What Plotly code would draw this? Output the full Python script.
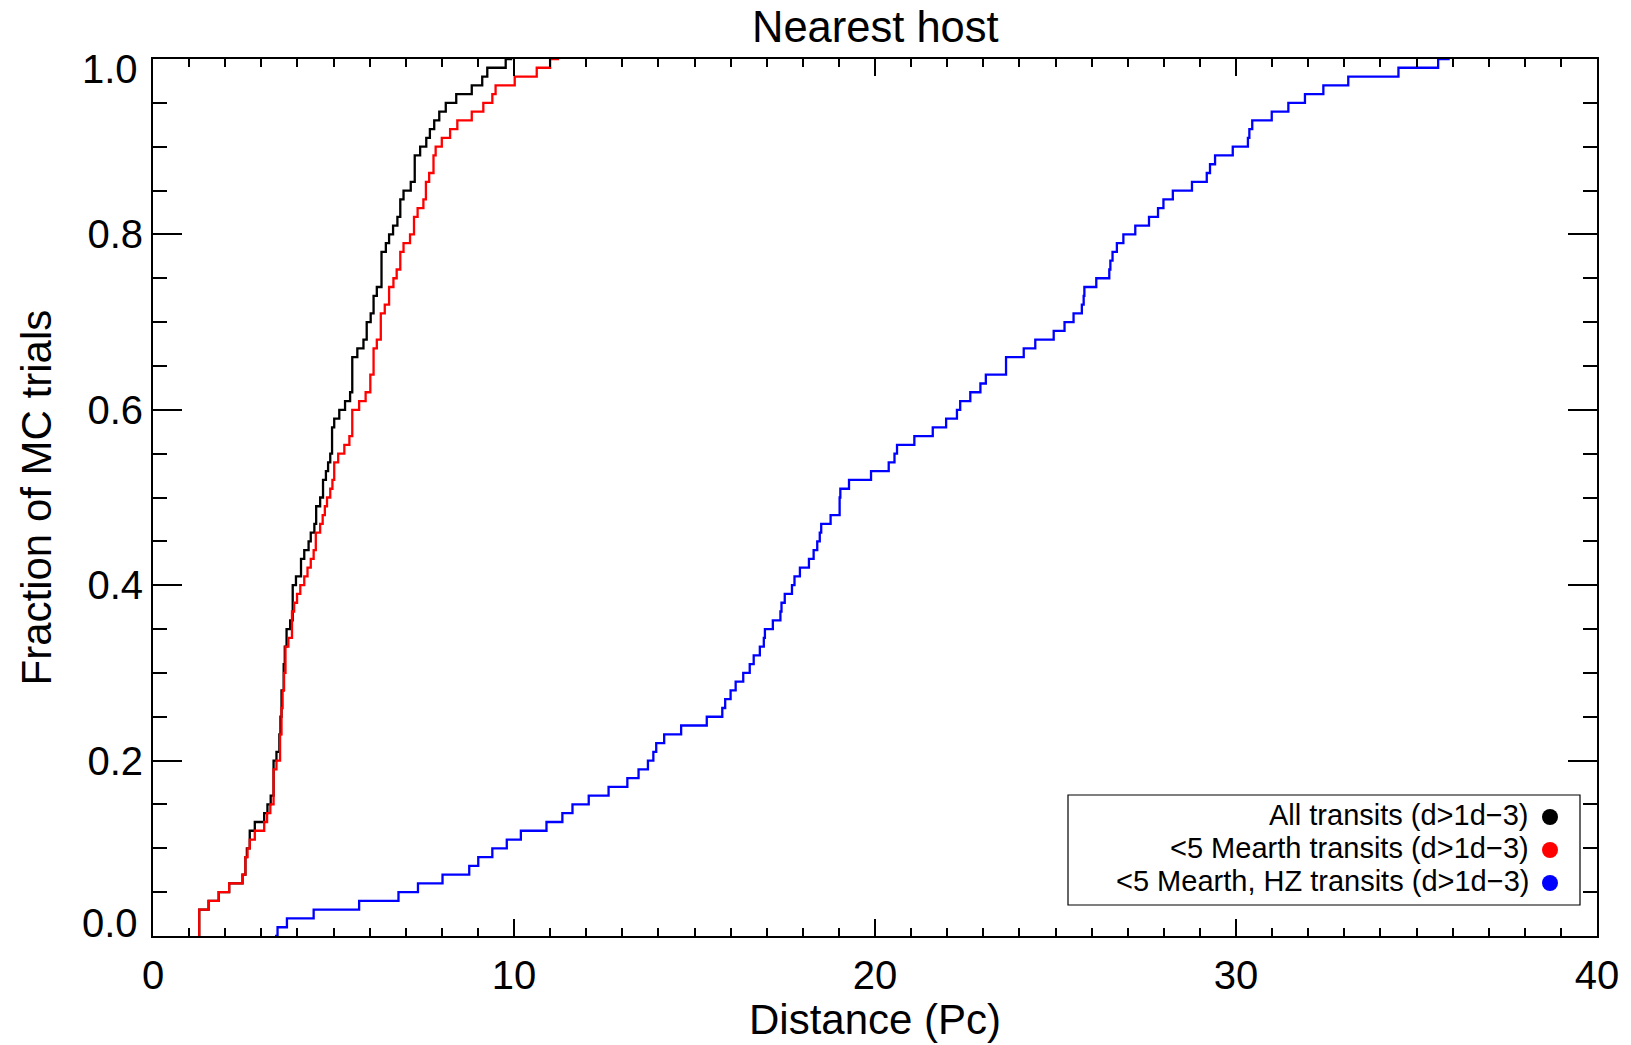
import plotly.graph_objects as go

# Cumulative distributions of the nearest-host distance (pc) over MC trials.
# Each list gives the distance at which the curve steps and the fraction reached there.
all_dist = [1.28, 1.28, 1.54, 1.82, 2.11, 2.48, 2.56, 2.60, 2.68, 2.82, 3.08, 3.17, 3.26,
            3.34, 3.42, 3.50, 3.53, 3.56, 3.62, 3.65, 3.70, 3.80, 3.87, 3.96, 4.10, 4.19,
            4.31, 4.37, 4.47, 4.52, 4.63, 4.71, 4.79, 4.85, 4.91, 4.96, 5.02, 5.16, 5.32,
            5.46, 5.52, 5.66, 5.83, 5.92, 6.03, 6.11, 6.20, 6.33, 6.45, 6.54, 6.65, 6.77,
            6.85, 6.94, 7.14, 7.25, 7.40, 7.57, 7.67, 7.79, 7.93, 8.11, 8.40, 8.83, 9.12,
            9.26, 9.77, 9.95]
all_frac = [0.00, 0.03, 0.04, 0.05, 0.06, 0.07, 0.09, 0.10, 0.12, 0.13, 0.14, 0.15, 0.16,
            0.20, 0.21, 0.23, 0.25, 0.28, 0.31, 0.33, 0.35, 0.36, 0.40, 0.41, 0.43, 0.44,
            0.45, 0.46, 0.47, 0.49, 0.50, 0.52, 0.53, 0.54, 0.55, 0.58, 0.59, 0.60, 0.61,
            0.62, 0.66, 0.67, 0.68, 0.70, 0.71, 0.73, 0.74, 0.78, 0.79, 0.80, 0.81, 0.82,
            0.84, 0.85, 0.86, 0.89, 0.90, 0.91, 0.92, 0.93, 0.94, 0.95, 0.96, 0.97, 0.98,
            0.99, 1.00, 1.00]

mearth_dist = [1.28, 1.28, 1.54, 1.82, 2.11, 2.48, 2.56, 2.62, 2.68, 2.82, 3.08, 3.16, 3.25,
               3.34, 3.42, 3.52, 3.56, 3.59, 3.63, 3.67, 3.75, 3.85, 3.91, 3.99, 4.08, 4.19,
               4.28, 4.37, 4.45, 4.51, 4.63, 4.70, 4.76, 4.82, 4.91, 4.97, 5.02, 5.13, 5.30,
               5.44, 5.52, 5.71, 5.89, 6.02, 6.11, 6.20, 6.31, 6.42, 6.54, 6.66, 6.75, 6.85,
               6.94, 7.12, 7.23, 7.33, 7.49, 7.56, 7.65, 7.77, 7.83, 8.00, 8.23, 8.43, 8.83,
               9.15, 9.40, 9.49, 10.02, 10.63, 11.00, 11.25]
mearth_frac = [0.00, 0.03, 0.04, 0.05, 0.06, 0.07, 0.09, 0.10, 0.11, 0.12, 0.13, 0.14, 0.15,
               0.19, 0.20, 0.23, 0.26, 0.28, 0.30, 0.33, 0.34, 0.37, 0.38, 0.39, 0.40, 0.41,
               0.42, 0.43, 0.44, 0.46, 0.47, 0.48, 0.49, 0.50, 0.51, 0.52, 0.54, 0.55, 0.56,
               0.57, 0.60, 0.61, 0.62, 0.64, 0.67, 0.68, 0.71, 0.72, 0.74, 0.75, 0.76, 0.78,
               0.79, 0.80, 0.82, 0.83, 0.84, 0.86, 0.87, 0.89, 0.90, 0.91, 0.92, 0.93, 0.94,
               0.95, 0.96, 0.97, 0.98, 0.99, 1.00, 1.00]

hz_dist = [3.38, 3.45, 3.71, 4.45, 5.71, 6.80, 7.34, 8.02, 8.76, 9.01, 9.40, 9.80, 10.19,
           10.90, 11.34, 11.62, 12.07, 12.62, 13.14, 13.45, 13.71, 13.86, 13.94, 14.16,
           14.63, 15.34, 15.77, 15.85, 16.00, 16.14, 16.35, 16.53, 16.64, 16.81, 16.92,
           16.95, 17.17, 17.38, 17.41, 17.50, 17.70, 17.77, 17.92, 18.17, 18.30, 18.40,
           18.47, 18.51, 18.77, 19.02, 19.04, 19.28, 19.89, 20.38, 20.54, 20.61, 21.09,
           21.60, 21.97, 22.27, 22.36, 22.64, 22.92, 23.07, 23.63, 24.12, 24.44, 24.95,
           25.25, 25.50, 25.73, 25.78, 25.80, 26.13, 26.49, 26.52, 26.58, 26.70, 26.88,
           27.21, 27.59, 27.84, 27.99, 28.25, 28.78, 29.19, 29.28, 29.42, 29.91, 30.33,
           30.37, 30.45, 30.99, 31.45, 31.91, 32.42, 33.11, 34.50, 35.60, 35.92]
hz_frac = [0.00, 0.01, 0.02, 0.03, 0.04, 0.05, 0.06, 0.07, 0.08, 0.09, 0.10, 0.11, 0.12,
           0.13, 0.14, 0.15, 0.16, 0.17, 0.18, 0.19, 0.20, 0.21, 0.22, 0.23,
           0.24, 0.25, 0.26, 0.27, 0.28, 0.29, 0.30, 0.31, 0.32, 0.33, 0.34,
           0.35, 0.36, 0.37, 0.38, 0.39, 0.40, 0.41, 0.42, 0.43, 0.44, 0.45,
           0.46, 0.47, 0.48, 0.50, 0.51, 0.52, 0.53, 0.54, 0.55, 0.56, 0.57,
           0.58, 0.59, 0.60, 0.61, 0.62, 0.63, 0.64, 0.66, 0.67, 0.68, 0.69,
           0.70, 0.71, 0.72, 0.73, 0.74, 0.75, 0.76, 0.77, 0.78, 0.79, 0.80,
           0.81, 0.82, 0.83, 0.84, 0.85, 0.86, 0.87, 0.88, 0.89, 0.90, 0.91,
           0.92, 0.93, 0.94, 0.95, 0.96, 0.97, 0.98, 0.99, 1.00, 1.00]

series_names = ["All transits (d>1d\u22123)",
                "<5 Mearth transits (d>1d\u22123)",
                "<5 Mearth, HZ transits (d>1d\u22123)"]
series_colors = ["#000000", "#ff0000", "#0000ff"]

y_tick_vals = [0.0, 0.2, 0.4, 0.6, 0.8, 1.0]
y_tick_text = ["0.0", "0.2", "0.4", "0.6", "0.8", "1.0"]

title_text = "Nearest host"
x_title = "Distance (Pc)"
y_title = "Fraction of MC trials"

W, H = 1631, 1045
ML, MR, MT, MB = 153, 34, 59, 109
PW, PH = W - ML - MR, H - MT - MB
FONT = "Liberation Sans, Arial, Helvetica, sans-serif"


def px(x):
    return (x - ML) / PW


def py(y):
    return (H - MB - y) / PH


fig = go.Figure()
for dist, frac, color in zip([all_dist, mearth_dist, hz_dist],
                             [all_frac, mearth_frac, hz_frac], series_colors):
    fig.add_trace(go.Scatter(x=dist, y=frac, mode="lines",
                             line=dict(color=color, width=2.3, shape="hv"),
                             showlegend=False, hoverinfo="skip"))

axis_common = dict(showline=True, linecolor="black", linewidth=2, mirror="allticks",
                   ticks="inside", tickcolor="black", tickwidth=2, showgrid=False,
                   zeroline=False, tickfont=dict(family=FONT, size=40, color="black"))

fig.update_xaxes(range=[0, 40], tick0=0, dtick=10, ticklen=17, ticklabelstandoff=3,
                 minor=dict(dtick=1, ticks="inside", ticklen=8, tickwidth=2,
                            tickcolor="black", showgrid=False),
                 **axis_common)

# Inner labels sit on their ticks; the end labels are kept inside the frame
inner_text = [t if 0 < v < 1 else "" for v, t in zip(y_tick_vals, y_tick_text)]
fig.update_yaxes(range=[0, 1], tickmode="array", tickvals=y_tick_vals, ticktext=inner_text,
                 ticklen=29,
                 minor=dict(dtick=0.05, ticks="inside", ticklen=14, tickwidth=2,
                            tickcolor="black", showgrid=False),
                 **axis_common)

annotations = [
    dict(text=title_text, x=0.5, y=py(27), xref="paper", yref="paper",
         xanchor="center", yanchor="middle", showarrow=False,
         font=dict(family=FONT, size=43.5, color="black")),
    dict(text=x_title, x=0.5, y=py(1019), xref="paper", yref="paper",
         xanchor="center", yanchor="middle", showarrow=False,
         font=dict(family=FONT, size=42, color="black")),
    dict(text=y_title, x=px(36), y=0.5, xref="paper", yref="paper",
         xanchor="center", yanchor="middle", showarrow=False, textangle=-90,
         font=dict(family=FONT, size=42, color="black")),
]
for v, t in zip(y_tick_vals, y_tick_text):
    if v in (0.0, 1.0):
        annotations.append(dict(text=t, x=px(140), y=v, xref="paper", yref="y",
                                xanchor="right", yanchor="middle", showarrow=False,
                                yshift=13.5 if v == 0.0 else -10,
                                font=dict(family=FONT, size=40, color="black")))

# Legend: right-aligned labels with a filled dot after each one
legend_rows = [815, 848, 881]
shapes = [dict(type="rect", xref="paper", yref="paper",
               x0=px(1068), x1=px(1580), y0=py(905), y1=py(795),
               line=dict(color="black", width=1.2), fillcolor="white", layer="above")]
for name, color, row in zip(series_names, series_colors, legend_rows):
    annotations.append(dict(text=name, x=px(1530), y=py(row), xref="paper", yref="paper",
                            xanchor="right", yanchor="middle", showarrow=False,
                            borderpad=0,
                            font=dict(family=FONT, size=29, color="black")))
    r = 8
    shapes.append(dict(type="circle", xref="paper", yref="paper",
                       x0=px(1550 - r), x1=px(1550 + r),
                       y0=py(row + 2 + r), y1=py(row + 2 - r),
                       line=dict(width=0), fillcolor=color, layer="above"))

fig.update_layout(width=W, height=H, autosize=False,
                  margin=dict(l=ML, r=MR, t=MT, b=MB, pad=0),
                  paper_bgcolor="white", plot_bgcolor="white",
                  annotations=annotations, shapes=shapes,
                  font=dict(family=FONT, color="black"))

fig.write_html("out.html", config={"displayModeBar": False})
